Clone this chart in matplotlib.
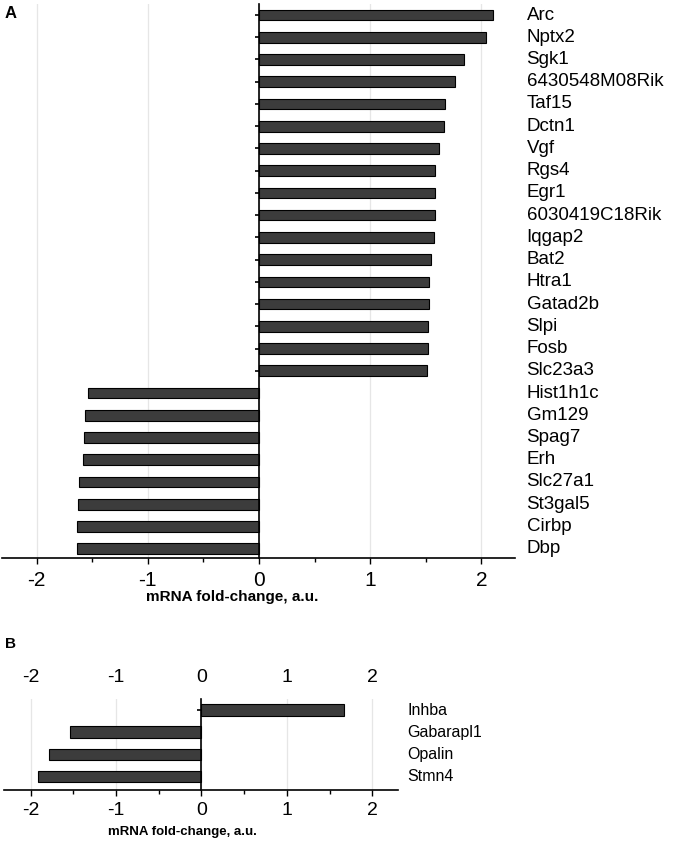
import matplotlib
matplotlib.use("Agg")
import matplotlib.pyplot as plt
import matplotlib.transforms as mtrans
from matplotlib.ticker import MultipleLocator

plt.rcParams["font.family"] = ["Liberation Sans", "DejaVu Sans"]

GENES_A = [
    "Arc", "Nptx2", "Sgk1", "6430548M08Rik", "Taf15", "Dctn1", "Vgf", "Rgs4",
    "Egr1", "6030419C18Rik", "Iqgap2", "Bat2", "Htra1", "Gatad2b", "Slpi",
    "Fosb", "Slc23a3", "Hist1h1c", "Gm129", "Spag7", "Erh", "Slc27a1",
    "St3gal5", "Cirbp", "Dbp",
]
FOLD_A = [
    2.10, 2.04, 1.84, 1.76, 1.67, 1.66, 1.62, 1.58, 1.58, 1.58, 1.57, 1.55,
    1.53, 1.53, 1.52, 1.52, 1.51, -1.54, -1.56, -1.57, -1.58, -1.62, -1.63,
    -1.64, -1.64,
]

GENES_B = ["Inhba", "Gabarapl1", "Opalin", "Stmn4"]
FOLD_B = [1.67, -1.54, -1.78, -1.91]

XTICKS = [-2, -1, 0, 1, 2]
BAR_COLOR = "#3c3c3c"
GRID_COLOR = "#e6e6e6"


def style_axis(ax, genes, values, bar_h, ylim, tick_size, label_size, xlabel_size, label_xy):
    rows = list(range(len(genes)))
    ax.barh(rows, values, height=bar_h, color=BAR_COLOR, edgecolor="black",
            linewidth=0.8, zorder=3)
    ax.set_xlim(-2.31, 2.3)
    ax.set_ylim(*ylim)
    ax.set_xticks(XTICKS)
    ax.set_xticklabels([str(t) for t in XTICKS])
    ax.xaxis.set_minor_locator(MultipleLocator(0.5))
    ax.grid(axis="x", which="major", color=GRID_COLOR, linewidth=0.9, zorder=0)
    ax.set_axisbelow(True)

    for side in ["top", "right"]:
        ax.spines[side].set_visible(False)
    ax.spines["left"].set_position(("data", 0))
    ax.spines["left"].set_linewidth(1.2)
    ax.spines["left"].set_zorder(4)
    ax.spines["bottom"].set_linewidth(1.2)

    ax.set_yticks(rows)
    ax.set_yticklabels([])
    ax.tick_params(axis="y", direction="out", length=3, width=1.2)
    ax.tick_params(axis="x", which="major", direction="out", length=4, width=1.0,
                   labelsize=tick_size, pad=5)
    ax.tick_params(axis="x", which="minor", direction="out", length=3, width=1.0)

    trans = mtrans.blended_transform_factory(ax.transAxes, ax.transData)
    for i, g in enumerate(genes):
        ax.text(1.023, i, g, transform=trans, ha="left", va="center",
                fontsize=label_size)

    ax.set_xlabel("mRNA fold-change, a.u.", fontsize=xlabel_size, fontweight="bold")
    ax.xaxis.set_label_coords(*label_xy)
    ax.xaxis.label.set_va("top")


fig = plt.figure(figsize=(6.8, 8.46), dpi=100)

ax_a = fig.add_axes([0.003, 0.3404, 0.754, 0.655])
style_axis(ax_a, GENES_A, FOLD_A, 0.48, (24.42, -0.5), 15, 13.5, 11, (0.448, -0.058))

ax_b = fig.add_axes([0.0059, 0.0662, 0.5794, 0.1076])
style_axis(ax_b, GENES_B, FOLD_B, 0.52, (3.6, -0.5), 14, 11.5, 9.5, (0.452, -0.40))

# panel B also shows the scale above the bars, without an axis line
top = ax_b.secondary_xaxis("top")
top.set_xticks(XTICKS)
top.set_xticklabels([str(t) for t in XTICKS])
top.spines["top"].set_visible(False)
top.tick_params(axis="x", length=0, labelsize=14, pad=9)

fig.text(0.007, 1 - 6 / 846, "A", fontsize=12, fontweight="bold", va="top")
fig.text(0.007, 1 - 637 / 846, "B", fontsize=11, fontweight="bold", va="top")

fig.savefig("out.png", dpi=100)
